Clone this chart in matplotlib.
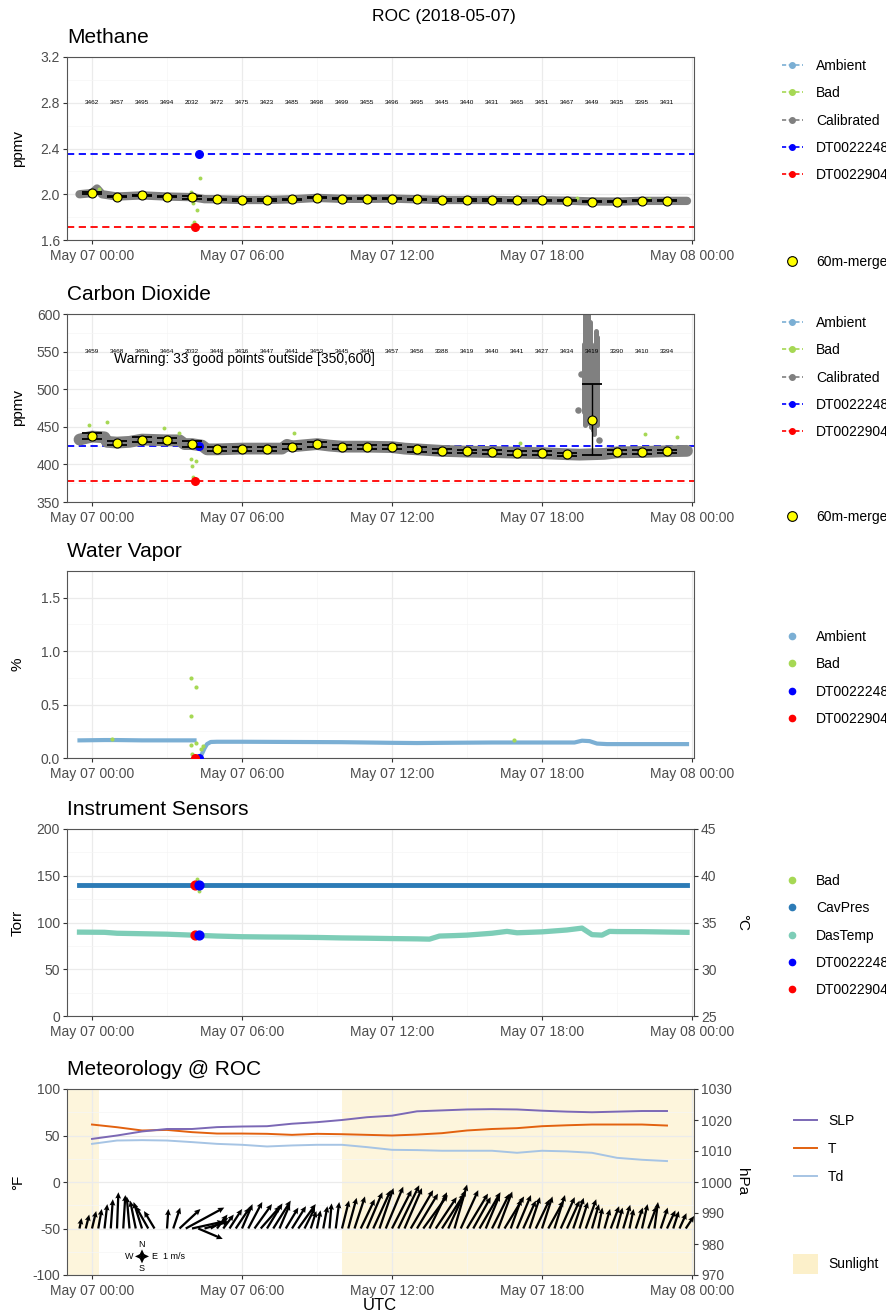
import numpy as np
import matplotlib.pyplot as plt
from matplotlib.lines import Line2D
from matplotlib.patches import Patch

plt.rcParams['font.family'] = ['Liberation Sans', 'DejaVu Sans']

nan = np.nan
W, H = 887, 1314

# hourly 60m-merge times (hours after 2018-05-07 00:00 UTC)
hours = np.arange(24)
xtick_labels = ['May 07 00:00', 'May 07 06:00', 'May 07 12:00', 'May 07 18:00', 'May 08 00:00']

# calibration tanks
tank_names = ['DT0022248', 'DT0022904']
tank_times = [4.3, 4.13]
ch4_tank = [2.35, 1.71]
co2_tank = [424.3, 378.0]
h2o_tank = [0.0, 0.0]
cav_tank = [140.0, 140.0]
das_tank = [33.62, 33.62]

# ---- methane ----
ch4_merge = [2.01, 1.98, 1.99, 1.98, 1.974, 1.956, 1.95, 1.95, 1.956, 1.97, 1.96, 1.96,
             1.962, 1.956, 1.95, 1.95, 1.95, 1.947, 1.947, 1.944, 1.936, 1.936, 1.942, 1.942]
ch4_sd = [0.01, 0.006, 0.006, 0.006, 0.012, 0.005, 0.005, 0.005, 0.006, 0.007, 0.005, 0.005,
          0.005, 0.005, 0.005, 0.005, 0.005, 0.005, 0.005, 0.005, 0.005, 0.005, 0.005, 0.005]
ch4_counts = [3462, 3457, 3495, 3494, 2032, 3472, 3475, 3423, 3485, 3498, 3499, 3455,
              3496, 3495, 3445, 3440, 3431, 3465, 3451, 3467, 3449, 3435, 3395, 3431]
ch4_cal_t = [-0.5, 0.0, 0.2, 0.4, 1, 2, 3, 4, 4.5, 5, 6, 7, 8, 9, 10, 11, 12, 13, 14, 15,
             16, 17, 18, 19, 20, 21, 22, 23, 23.8]
ch4_cal_v = [2.0, 2.01, 2.05, 2.0, 1.98, 1.99, 1.98, 1.975, 1.957, 1.956, 1.95, 1.95, 1.956,
             1.968, 1.96, 1.96, 1.962, 1.956, 1.95, 1.95, 1.95, 1.947, 1.947, 1.944, 1.937,
             1.936, 1.942, 1.942, 1.942]
ch4_bad_t = [0.3, 3.97, 4.34, 4.05, 4.2, 4.1, 4.0, 15.0, 19.4, 22.3]
ch4_bad_v = [2.05, 2.02, 2.14, 1.92, 1.86, 1.76, 1.73, 1.96, 1.965, 1.96]

# ---- carbon dioxide ----
co2_merge = [437.8, 428.9, 432.9, 432.0, 426.7, 420.0, 420.9, 420.9, 423.6, 426.7, 423.6, 423.6,
             423.1, 420.0, 418.2, 417.3, 416.4, 415.6, 415.1, 413.3, 459.5, 416.0, 416.4, 417.3]
co2_sd = [4, 2.5, 3, 3, 4, 2.5, 2.5, 2.5, 3, 3, 2.5, 2.5,
          2.5, 3, 2.5, 2.5, 2.5, 2.5, 2.5, 2.5, 47.5, 2.5, 2.5, 2.5]
co2_counts = [3459, 3468, 3459, 3464, 2032, 3448, 3436, 3447, 3441, 3453, 3445, 3440,
              3457, 3456, 3388, 3419, 3440, 3441, 3427, 3434, 3419, 3390, 3410, 3394]
co2_cal_t = [-0.5, 0.0, 0.5, 0.6, 1.0, 1.5, 2.0, 3.0, 3.5, 3.7, 4.0, 4.4, 4.6, 5, 6, 7, 7.6,
             7.8, 8, 9, 9.5, 10, 11, 12, 12.5, 13, 14, 15, 16, 17, 18, 19, 19.5, 20.5, 21,
             22, 23, 23.8]
co2_cal_v = [433, 437, 436, 430, 429, 430, 433, 432, 432, 427, 427, 425, 420, 420, 421, 421,
             421, 426, 424, 427, 425, 423.6, 423.6, 423, 421, 420, 418, 417, 416.5, 415.5,
             415, 413.5, 413, 414, 416, 416.5, 417.5, 418]
# the 19:30-20:20 spike: spread of the calibrated points in narrow time slices
co2_spike_t = [19.68, 19.74, 19.8, 19.86, 19.92, 19.98, 20.04, 20.1, 20.16, 20.22]
co2_spike_lo = [470, 452, 455, 462, 470, 450, 446, 440, 455, 452]
co2_spike_hi = [560, 600, 600, 600, 590, 560, 540, 520, 578, 570]
co2_out_t = [19.45, 19.58, 20.3]
co2_out_v = [472, 520, 432]
co2_bad_t = [-0.1, 0.6, 2.9, 3.5, 3.97, 4.18, 4.0, 4.05, 8.1, 17.1, 22.1, 23.4]
co2_bad_v = [452, 456, 448, 442, 407, 404, 398, 383, 442, 429, 441, 436]

# ---- water vapor ----
h2o_t = [-0.5, 0.5, 1, 2, 3, 4.1, nan, 4.4, 4.5, 4.6, 4.75, 5, 6, 8, 10, 11, 12, 13, 14, 16,
         18, 19.3, 19.6, 19.9, 20.2, 20.6, 22, 23.8]
h2o_v = [0.165, 0.168, 0.168, 0.165, 0.165, 0.165, nan, 0.04, 0.09, 0.13, 0.15, 0.152, 0.152,
         0.15, 0.148, 0.145, 0.142, 0.14, 0.142, 0.145, 0.145, 0.145, 0.162, 0.158, 0.135,
         0.13, 0.13, 0.13]
h2o_bad_t = [3.98, 4.18, 3.98, 4.18, 3.98, 4.0, 4.35, 4.45, 0.8, 16.9]
h2o_bad_v = [0.75, 0.666, 0.39, 0.145, 0.12, 0.04, 0.08, 0.11, 0.175, 0.17]

# ---- instrument sensors ----
cav_t = [-0.5, 23.8]
cav_v = [140.0, 140.0]
das_t = [-0.5, 0.5, 1, 2, 3, 4, 5, 6, 7, 8, 9, 10, 11, 12, 13, 13.5, 13.9, 14.5, 15, 16, 16.6,
         17, 18, 18.5, 19, 19.6, 20.0, 20.4, 20.7, 21, 22, 23, 23.8]
das_c = [33.97, 33.95, 33.85, 33.8, 33.75, 33.65, 33.55, 33.48, 33.45, 33.43, 33.4, 33.35,
         33.32, 33.28, 33.25, 33.22, 33.55, 33.6, 33.65, 33.85, 34.05, 33.9, 34.0, 34.1, 34.2,
         34.4, 33.7, 33.65, 34.05, 34.03, 34.02, 33.98, 33.95]
inst_bad_t = [4.2, 4.3]
inst_bad_v = [146, 134]

# ---- meteorology ----
slp_hpa = [1013.9, 1015.0, 1016.3, 1017.1, 1017.1, 1017.7, 1017.9, 1018.0, 1018.8, 1019.3,
           1020.0, 1020.9, 1021.4, 1022.8, 1023.1, 1023.4, 1023.5, 1023.4, 1023.0, 1022.7,
           1022.5, 1022.7, 1022.9, 1022.9]
temp_f = [61.8, 58.9, 55.4, 56.0, 53.6, 52.1, 52.1, 51.8, 50.7, 51.8, 51.4, 50.7, 50.0, 51.0,
          52.5, 55.4, 57.0, 57.9, 60.0, 61.0, 61.8, 61.8, 61.8, 60.7]
dew_f = [41.0, 44.6, 45.0, 44.6, 42.9, 41.0, 40.0, 38.2, 39.3, 40.0, 40.0, 37.5, 34.6, 34.3,
         33.6, 33.6, 33.6, 31.4, 33.6, 32.9, 31.4, 26.0, 23.9, 22.5]
sun_start = [-1.2, 10.0]
sun_end = [0.28, 24.2]

# wind every 15 min from -0.5 h (m/s, u toward east, v toward north)
wind_t = np.arange(-0.5, 24.0, 0.25)
wind_u = [0.3, 0.5,
          0.6, 0.5, 0.4, 0.3,
          0.2, 0.3, -0.4, -0.8,
          -1.2, -1.8, -1.5, nan,
          0.2, 1.0, 3.0, 5.5,
          4.5, 3.5, 3.5, 2.5,
          1.5, 1.5, 1.8, 2.0,
          1.5, 2.0, 2.5, 2.8,
          2.2, 2.5, 1.5, 1.8,
          2.0, 2.5, 1.5, 0.8,
          0.5, 0.6, 0.3, 0.5,
          1.0, 1.2, 1.5, 2.0,
          2.2, 2.5, 2.0, 2.5,
          2.8, 3.0, 2.5, 3.2,
          3.0, 3.5, 2.5, 3.0,
          3.2, 2.5, 1.8, 2.5,
          3.0, 2.5, 3.0, 2.0,
          2.5, 2.0, 2.8, 1.5,
          2.0, 1.8, 1.5, 2.0,
          1.5, 2.2, 1.5, 2.0,
          1.8, 1.5, 1.2, 1.5,
          1.0, 0.6, 0.8, 1.2,
          0.8, 1.0, 0.6, 1.0,
          0.8, 1.2, 0.5, 1.0,
          1.2, 0.8, 1.0, 1.2]
wind_v = [1.5, 2.0,
          2.5, 2.8, 3.5, 4.2,
          5.2, 4.8, 4.6, 4.0,
          3.8, 3.2, 2.5, nan,
          2.8, 3.0, 2.8, 3.0,
          1.0, -1.5, 1.0, 1.5,
          2.0, 2.0, 2.8, 3.0,
          3.5, 3.8, 3.5, 3.2,
          3.6, 4.0, 3.5, 3.0,
          3.2, 3.5, 3.0, 2.5,
          2.6, 3.2, 3.6, 3.8,
          4.0, 4.4, 4.6, 4.2,
          5.2, 5.5, 5.8, 6.0,
          5.5, 6.2, 5.8, 5.5,
          5.0, 4.8, 5.2, 4.5,
          5.0, 5.5, 6.3, 5.5,
          5.0, 4.5, 5.2, 4.8,
          5.0, 5.3, 4.6, 4.2,
          4.8, 4.0, 4.5, 4.2,
          4.6, 4.0, 4.8, 4.5,
          4.0, 4.4, 3.8, 4.2,
          3.5, 3.0, 2.8, 3.2,
          3.0, 3.4, 2.8, 3.0,
          3.5, 3.2, 3.8, 3.0,
          2.6, 2.5, 2.2, 1.8]

C_AMB = '#7BAFD4'
C_BAD = '#A6D854'
C_CAL = '#808080'
C_T1 = '#0000FF'
C_T2 = '#FF0000'
C_CAV = '#2C7BB6'
C_DAS = '#7DCDB7'
C_SLP = '#7B68B5'
C_T = '#E2610F'
C_TD = '#A6C4E4'
C_SUN = '#FBE6A8'

fig = plt.figure(figsize=(W / 100, H / 100), dpi=100)


def make_ax(top, bottom):
    return fig.add_axes([67 / W, 1 - bottom / H, 627 / W, (bottom - top) / H])


def style(ax, ylim, yticks, yminor, fmt, title):
    ax.set_xlim(-1.0, 24.08)
    ax.set_ylim(*ylim)
    ax.set_xticks([0, 6, 12, 18, 24])
    ax.set_xticklabels(xtick_labels)
    ax.set_xticks([3, 9, 15, 21], minor=True)
    ax.set_yticks(yticks)
    ax.set_yticklabels([fmt.format(v) for v in yticks])
    ax.set_yticks(yminor, minor=True)
    ax.grid(which='major', color='#EBEBEB', lw=0.9)
    ax.grid(which='minor', color='#F5F5F5', lw=0.5)
    ax.set_axisbelow(True)
    ax.tick_params(which='major', length=3, color='#333333', labelcolor='#4D4D4D',
                   labelsize=10, pad=2)
    ax.tick_params(axis='x', which='major', pad=3.5)
    ax.tick_params(which='minor', length=0)
    for s in ax.spines.values():
        s.set_color('#555555')
        s.set_linewidth(0.8)
    ax.set_title(title, loc='left', fontsize=15, pad=10)


def ylab(text, top, bottom, x=18, rot=90):
    fig.text(x / W, 1 - (top + bottom) / 2 / H, text, rotation=rot, ha='center',
             va='center', fontsize=11)


def line_handle(c):
    return Line2D([], [], color=c, ls=(0, (2.5, 1.5)), lw=1.2, marker='o', ms=4)


def point_handle(c):
    return Line2D([], [], color=c, ls='none', marker='o', ms=4.5)


def legend(handles, labels, y_px, x_px=782, loc='upper left', **kw):
    opts = dict(frameon=False, fontsize=10, handlelength=1.5, handletextpad=0.95,
                labelspacing=0.96, borderpad=0, borderaxespad=0)
    opts.update(kw)
    fig.legend(handles, labels, loc=loc, bbox_to_anchor=(x_px / W, 1 - y_px / H), **opts)


gas_labels = ['Ambient', 'Bad', 'Calibrated'] + tank_names
gas_handles = [line_handle(c) for c in [C_AMB, C_BAD, C_CAL, C_T1, C_T2]]
merge_handle = Line2D([], [], ls='none', marker='o', mfc='yellow', mec='black', ms=7, mew=0.8)

fig.text(0.5, 1 - 17 / H, 'ROC (2018-05-07)', ha='center', va='center', fontsize=12.5)

# ---------------- Methane ----------------
ax = make_ax(57, 240)
ax.axhline(ch4_tank[0], color=C_T1, ls=(0, (4, 2.5)), lw=1.3, zorder=1)
ax.axhline(ch4_tank[1], color=C_T2, ls=(0, (4, 2.5)), lw=1.3, zorder=1)
ax.plot(ch4_cal_t, ch4_cal_v, color=C_CAL, lw=6, solid_capstyle='round', zorder=2)
ax.scatter(ch4_bad_t, ch4_bad_v, s=8, color=C_BAD, zorder=3, linewidths=0)
ax.scatter(tank_times[:1], ch4_tank[:1], s=30, color=C_T1, zorder=4)
ax.scatter(tank_times[1:], ch4_tank[1:], s=30, color=C_T2, zorder=4)
ax.errorbar(hours, ch4_merge, yerr=ch4_sd, fmt='none', ecolor='black', elinewidth=1,
            capsize=7.5, capthick=1.3, zorder=5)
ax.plot(hours, ch4_merge, 'o', mfc='yellow', mec='black', ms=6.5, mew=0.8, zorder=6)
for h, n in zip(hours, ch4_counts):
    ax.text(h, 2.8, str(n), fontsize=4.6, ha='center', va='center')
style(ax, (1.6, 3.2), [1.6, 2.0, 2.4, 2.8, 3.2], [1.8, 2.2, 2.6, 3.0], '{:.1f}', 'Methane')
ylab('ppmv', 57, 240)
legend(gas_handles, gas_labels, 59)
legend([merge_handle], ['60m-merge'], 262, loc='center left')

# ---------------- Carbon Dioxide ----------------
ax = make_ax(314, 502)
ax.axhline(co2_tank[0], color=C_T1, ls=(0, (4, 2.5)), lw=1.3, zorder=1)
ax.axhline(co2_tank[1], color=C_T2, ls=(0, (4, 2.5)), lw=1.3, zorder=1)
ax.plot(co2_cal_t, co2_cal_v, color=C_CAL, lw=8.5, solid_capstyle='round', zorder=2)
ax.vlines(co2_spike_t, co2_spike_lo, co2_spike_hi, color=C_CAL, lw=3.6, zorder=2,
          capstyle='round')
ax.scatter(co2_out_t, co2_out_v, s=22, color=C_CAL, zorder=2, linewidths=0)
ax.scatter(co2_bad_t, co2_bad_v, s=8, color=C_BAD, zorder=3, linewidths=0)
ax.scatter(tank_times[:1], co2_tank[:1], s=30, color=C_T1, zorder=4)
ax.scatter(tank_times[1:], co2_tank[1:], s=30, color=C_T2, zorder=4)
ax.errorbar(hours, co2_merge, yerr=co2_sd, fmt='none', ecolor='black', elinewidth=1,
            capsize=7.5, capthick=1.3, zorder=5)
ax.plot(hours, co2_merge, 'o', mfc='yellow', mec='black', ms=6.5, mew=0.8, zorder=6)
for h, n in zip(hours, co2_counts):
    ax.text(h, 550, str(n), fontsize=4.6, ha='center', va='center')
ax.text(6.1, 540, 'Warning: 33 good points outside [350,600]', fontsize=10,
        ha='center', va='center', zorder=7)
style(ax, (350, 600), [350, 400, 450, 500, 550, 600], [375, 425, 475, 525, 575], '{:.0f}',
      'Carbon Dioxide')
ylab('ppmv', 314, 502)
legend(gas_handles, gas_labels, 316)
legend([merge_handle], ['60m-merge'], 517, loc='center left')

# ---------------- Water Vapor ----------------
ax = make_ax(571, 758)
ax.plot(h2o_t, h2o_v, color=C_AMB, lw=3, zorder=2)
ax.scatter(h2o_bad_t, h2o_bad_v, s=9, color=C_BAD, zorder=3, linewidths=0)
ax.scatter(tank_times[:1], h2o_tank[:1], s=30, color=C_T1, zorder=4)
ax.scatter(tank_times[1:], h2o_tank[1:], s=30, color=C_T2, zorder=4)
style(ax, (0, 1.75), [0, 0.5, 1.0, 1.5], [0.25, 0.75, 1.25, 1.75], '{:.1f}', 'Water Vapor')
ylab('%', 571, 758)
legend([point_handle(c) for c in [C_AMB, C_BAD, C_T1, C_T2]],
       ['Ambient', 'Bad'] + tank_names, 630)

# ---------------- Instrument Sensors ----------------
ax = make_ax(829, 1016)
ax2 = ax.twinx()
ax.plot(cav_t, cav_v, color=C_CAV, lw=3.5, zorder=2)
ax2.plot(das_t, das_c, color=C_DAS, lw=3.8, zorder=2)
ax.scatter(inst_bad_t, inst_bad_v, s=8, color=C_BAD, zorder=3, linewidths=0)
ax.scatter(tank_times[1:], cav_tank[1:], s=40, color=C_T2, zorder=4)
ax.scatter(tank_times[:1], cav_tank[:1], s=40, color=C_T1, zorder=4)
ax2.scatter(tank_times[1:], das_tank[1:], s=40, color=C_T2, zorder=4)
ax2.scatter(tank_times[:1], das_tank[:1], s=40, color=C_T1, zorder=4)
style(ax, (0, 200), [0, 50, 100, 150, 200], [25, 75, 125, 175], '{:.0f}', 'Instrument Sensors')
ax2.set_ylim(25, 45)
ax2.set_yticks([25, 30, 35, 40, 45])
ax2.tick_params(length=3, color='#333333', labelcolor='#4D4D4D', labelsize=10, pad=2)
for s in ax2.spines.values():
    s.set_visible(False)
ylab('Torr', 829, 1016)
ylab('°C', 829, 1016, x=742, rot=-90)
legend([point_handle(c) for c in [C_BAD, C_CAV, C_DAS, C_T1, C_T2]],
       ['Bad', 'CavPres', 'DasTemp'] + tank_names, 874)

# ---------------- Meteorology ----------------
ax = make_ax(1089, 1275)
ax2 = ax.twinx()
for s0, s1 in zip(sun_start, sun_end):
    ax.axvspan(s0, s1, color=C_SUN, alpha=0.4, lw=0, zorder=0.2)
ax.plot(hours, temp_f, color=C_T, lw=1.4, zorder=2)
ax.plot(hours, dew_f, color=C_TD, lw=1.4, zorder=2)
ax2.plot(hours, slp_hpa, color=C_SLP, lw=1.4, zorder=2)

kx, ky = 0.28, 7.5  # 1 m/s in hours and in degF
wu = np.array(wind_u)
wv = np.array(wind_v)
ok = np.isfinite(wu)
qkw = dict(angles='xy', scale_units='xy', scale=1, width=0.0036, headwidth=2.6,
           headlength=2.8, headaxislength=2.5, color='black', zorder=3)
ax.quiver(wind_t[ok], np.full(ok.sum(), -50.0), wu[ok] * kx, wv[ok] * ky, **qkw)
# wind key
kc_t, kc_y = 2.0, -80.0
ax.quiver([kc_t] * 4, [kc_y] * 4, np.array([1, -1, 0, 0]) * kx, np.array([0, 0, 1, -1]) * ky,
          **qkw)
ax.text(kc_t, kc_y + ky + 0.5, 'N', fontsize=6.5, ha='center', va='bottom')
ax.text(kc_t, kc_y - ky - 0.5, 'S', fontsize=6.5, ha='center', va='top')
ax.text(kc_t - kx - 0.05, kc_y, 'W', fontsize=6.5, ha='right', va='center')
ax.text(kc_t + kx + 0.08, kc_y, 'E', fontsize=6.5, ha='left', va='center')
ax.text(kc_t + 0.85, kc_y, '1 m/s', fontsize=6.5, ha='left', va='center')

style(ax, (-100, 100), [-100, -50, 0, 50, 100], [-75, -25, 25, 75], '{:.0f}',
      'Meteorology @ ROC')
ax2.set_ylim(970, 1030)
ax2.set_yticks([970, 980, 990, 1000, 1010, 1020, 1030])
ax2.tick_params(length=3, color='#333333', labelcolor='#4D4D4D', labelsize=10, pad=2)
for s in ax2.spines.values():
    s.set_visible(False)
ylab('°F', 1089, 1275)
ylab('hPa', 1089, 1275, x=742, rot=-90)
fig.text(380 / W, 1 - 1305 / H, 'UTC', ha='center', va='center', fontsize=12)

met_handles = [Line2D([], [], color=c, lw=1.4) for c in [C_SLP, C_T, C_TD]]
legend(met_handles, ['SLP', 'T', 'Td'], 1114, x_px=794, handlelength=1.65,
       handletextpad=0.8, labelspacing=1.0)
legend([Patch(facecolor=C_SUN, alpha=0.6, lw=0)], ['Sunlight'], 1264, x_px=793,
       loc='center left', handlelength=1.8, handleheight=1.75, handletextpad=0.75)

fig.savefig('out.png', dpi=100)
